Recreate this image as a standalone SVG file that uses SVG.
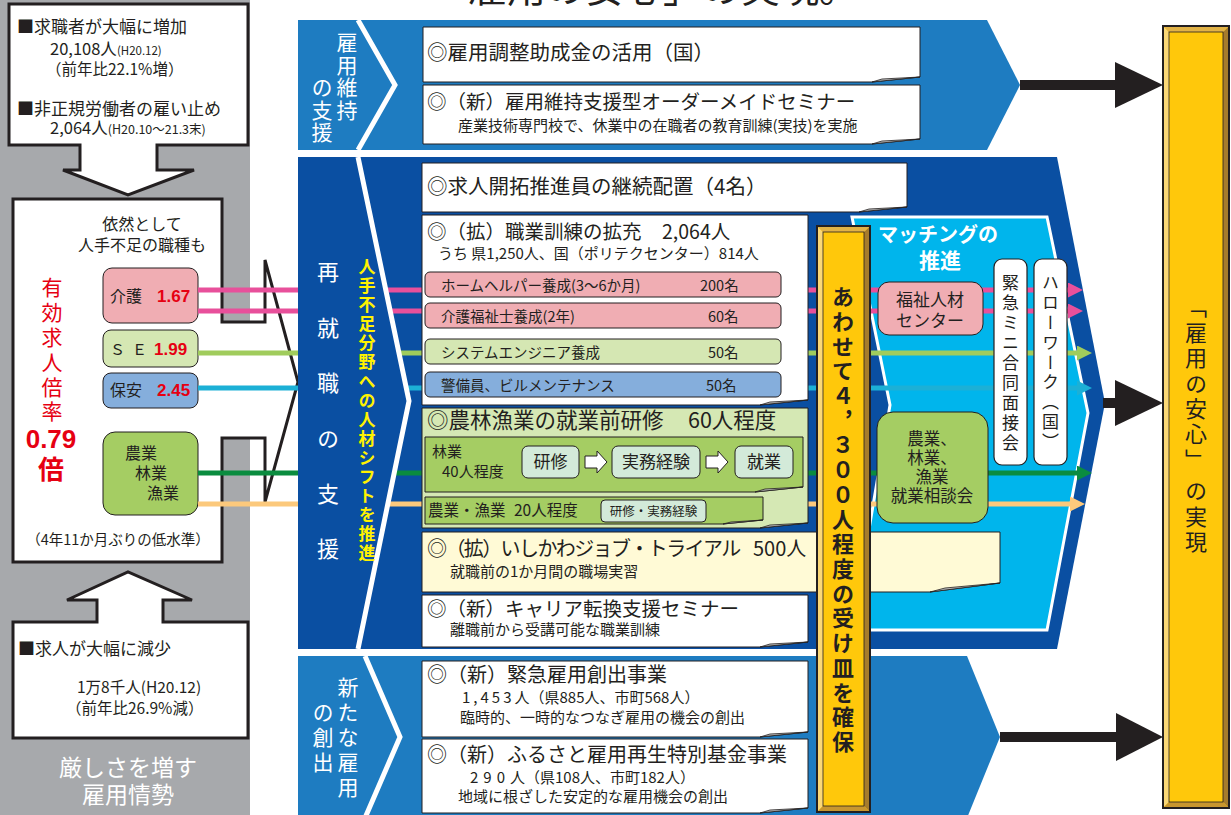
<svg xmlns="http://www.w3.org/2000/svg" width="1231" height="815" viewBox="0 0 1231 815">
<defs>
<style>
text{font-family:"Noto Sans CJK JP","Noto Sans CJK SC","Noto Sans",sans-serif;fill:#231f20}
.v{writing-mode:vertical-rl}
.w{fill:#fff}
.red{fill:#e60012}
.yl{fill:#fff200;font-weight:bold}
.num{font-family:"Liberation Sans",Arial,sans-serif;font-weight:bold;fill:#e60012}
.bx{fill:#fff;stroke:#231f20;stroke-width:1}
.fold{fill:#bdbdbd;stroke:#231f20;stroke-width:0.8;stroke-linejoin:round}
.sb{stroke:#231f20;stroke-width:1}
.pk{fill:#f0adb3}
.lg{fill:#d5e7b3}
.bl{fill:#85aedc}
.gr{fill:#a5cd63}
.mint{fill:#d3ead9;stroke:#231f20;stroke-width:1}
.ln{fill:none;stroke-width:5}
.outline{fill:#fff;stroke:#231f20;stroke-width:3}
.sep{fill:none;stroke:#fff;stroke-width:5}
.vb{fill:#fff;stroke:#231f20;stroke-width:1.2}
.barface{fill:#ffc80b}
.bl-l{fill:#fbd877}
.bl-r{fill:#a67c2c}
.bl-t{fill:#e2b347}
.bl-b{fill:#c8962f}
.edge{fill:none;stroke:#231f20}
.blk{fill:#231f20}
</style>
<marker id="mPk" viewBox="0 0 16 16" refX="0" refY="8" markerWidth="15" markerHeight="15" markerUnits="userSpaceOnUse" orient="auto"><path d="M0,0 L16,8 L0,16 Z" fill="#e8509b"/></marker>
<marker id="mLg" viewBox="0 0 16 16" refX="0" refY="8" markerWidth="15" markerHeight="15" markerUnits="userSpaceOnUse" orient="auto"><path d="M0,0 L16,8 L0,16 Z" fill="#a0cc5c"/></marker>
<marker id="mCy" viewBox="0 0 16 16" refX="0" refY="8" markerWidth="15" markerHeight="15" markerUnits="userSpaceOnUse" orient="auto"><path d="M0,0 L16,8 L0,16 Z" fill="#1cb0d6"/></marker>
<marker id="mDg" viewBox="0 0 16 16" refX="0" refY="8" markerWidth="15" markerHeight="15" markerUnits="userSpaceOnUse" orient="auto"><path d="M0,0 L16,8 L0,16 Z" fill="#0a8c3f"/></marker>
<marker id="mOr" viewBox="0 0 16 16" refX="0" refY="8" markerWidth="15" markerHeight="15" markerUnits="userSpaceOnUse" orient="auto"><path d="M0,0 L16,8 L0,16 Z" fill="#fcc97c"/></marker>
</defs>
<rect x="0" y="0" width="1231" height="815" fill="#fff"/>

<!-- title (cut off at top) -->
<text id="title" x="429" y="2" font-size="39">「雇用の安心」の実現。</text>

<!-- left panel -->
<rect x="0" y="0" width="250" height="815" fill="#a7a9ac"/>

<g id="n-kyushokusha">
<path class="outline" d="M9,4 H248 V145 H157 V170 H194 L128,195 L63,170 H80 V145 H9 Z"/>
<text x="17" y="33" font-size="17">■求職者が大幅に増加</text>
<text x="50" y="55" font-size="16.5">20,108人<tspan font-size="11.5">(H20.12)</tspan></text>
<text x="46" y="75" font-size="15.5">（前年比22.1%増）</text>
<text x="17" y="115" font-size="17">■非正規労働者の雇い止め</text>
<text x="50" y="134" font-size="16.5">2,064人<tspan font-size="12.5">(H20.10～21.3末)</tspan></text>
</g>

<g id="n-yuko-kyujin">
<path class="outline" d="M13,199 H222 V322 H265 V260 L298,382 L265,502 V438 H222 V562 H13 Z"/>
<text x="142" y="230" font-size="16" text-anchor="middle">依然として</text>
<text x="142" y="251" font-size="16" text-anchor="middle">人手不足の職種も</text>
<text class="v red" x="52" y="277" font-size="21" letter-spacing="3.8">有効求人倍率</text>
<text class="num" x="51" y="448" font-size="26" text-anchor="middle">0.79</text>
<text class="red" x="51" y="479" font-size="26" font-weight="bold" text-anchor="middle">倍</text>
<text x="118" y="545" font-size="14.5" text-anchor="middle">（4年11か月ぶりの低水準）</text>
</g>

<g id="n-kaigo">
<rect class="pk sb" x="103" y="268" width="95" height="55" rx="9"/>
<text x="110" y="302" font-size="16">介護</text>
<text class="num" x="157" y="302" font-size="17">1.67</text>
</g>
<g id="n-se">
<rect class="lg sb" x="103" y="330" width="95" height="37" rx="8"/>
<text x="110" y="355" font-size="15" letter-spacing="7">ＳＥ</text>
<text class="num" x="154" y="355" font-size="17">1.99</text>
</g>
<g id="n-hoan">
<rect class="bl sb" x="103" y="373" width="95" height="35" rx="8"/>
<text x="110" y="396" font-size="16">保安</text>
<text class="num" x="157" y="396" font-size="17">2.45</text>
</g>
<g id="n-nourin">
<rect class="gr sb" x="103" y="432" width="95" height="83" rx="12"/>
<text x="125" y="459" font-size="16">農業</text>
<text x="135" y="479" font-size="16">林業</text>
<text x="147" y="499" font-size="16">漁業</text>
</g>

<g id="n-kyujin-genshou">
<path class="outline" d="M13,622 H97 V600 H67 L128,572 L192,600 H163 V622 H248 V738 H13 Z"/>
<text x="18" y="655" font-size="17">■求人が大幅に減少</text>
<text x="77" y="693" font-size="15.5">1万8千人(H20.12)</text>
<text x="66" y="714" font-size="15.5">（前年比26.9%減）</text>
<text class="w" x="128" y="776" font-size="23" text-anchor="middle">厳しさを増す</text>
<text class="w" x="128" y="803" font-size="23" text-anchor="middle">雇用情勢</text>
</g>

<!-- blocks -->
<g id="block-koyou-iji">
<path d="M298,20 H987 L1020,85 L987,150 H298 Z" fill="#1e7cc1"/>
<polyline class="sep" points="358,20 395,85 358,150"/>
<text class="v w" x="347" y="32" font-size="21" letter-spacing="1.5">雇用維持</text>
<text class="v w" x="322" y="77" font-size="21" letter-spacing="1.5">の支援</text>
</g>
<g id="block-saishushoku">
<path d="M298,157 H1057 L1105,403 L1057,649 H298 Z" fill="#0a4fa2"/>
</g>
<g id="block-atarashii-koyou">
<path d="M298,656 H967 L1000,737 L967,818 H298 Z" fill="#1e7cc1"/>
<polyline class="sep" points="365,656 400,737 365,818"/>
<text class="v w" x="348" y="677" font-size="21" letter-spacing="3.8">新たな雇用</text>
<text class="v w" x="323" y="702" font-size="21" letter-spacing="3.8">の創出</text>
</g>
<g id="block-matching">
<polygon points="852,217 1047,217 1088,413 1047,630 852,630 890,405" fill="#00b5ec" stroke="#fff" stroke-width="3"/>
<text class="w" x="938" y="242" font-size="20" font-weight="bold" text-anchor="middle">マッチングの</text>
<text class="w" x="940" y="268" font-size="21" font-weight="bold" text-anchor="middle">推進</text>
</g>

<!-- connectors -->
<g id="connectors">
<path class="ln" stroke="#e8509b" d="M198,290 H1068" marker-end="url(#mPk)"/>
<path class="ln" stroke="#e8509b" d="M198,311 H1068" marker-end="url(#mPk)"/>
<path class="ln" stroke="#a0cc5c" d="M198,353 H1077" marker-end="url(#mLg)"/>
<path class="ln" stroke="#1cb0d6" d="M198,388 H1077" marker-end="url(#mCy)"/>
<path class="ln" stroke="#0a8c3f" d="M198,473 H1077" marker-end="url(#mDg)"/>
<path class="ln" stroke="#fcc97c" d="M198,504 H1070" marker-end="url(#mOr)"/>
<path d="M1020,85 H1120" stroke="#231f20" stroke-width="10"/>
<polygon class="blk" points="1115,62 1163,85 1115,108"/>
<path d="M1103,403 H1120" stroke="#231f20" stroke-width="10"/>
<polygon class="blk" points="1115,380 1163,403 1115,426"/>
<path d="M1000,737 H1120" stroke="#231f20" stroke-width="10"/>
<polygon class="blk" points="1116,713 1163,737 1116,761"/>
</g>

<!-- label area of middle block (covers lines) -->
<g id="label-saishushoku">
<polygon points="298,157 358,157 409,401 358,649 298,649" fill="#0a4fa2"/>
<polyline class="sep" points="358,157 409,401 358,649"/>
<text class="v w" x="328" y="261" font-size="22" letter-spacing="33.4">再就職の支援</text>
<text class="v yl" x="367" y="258" font-size="17" letter-spacing="2.1">人手不足分野への人材シフトを推進</text>
</g>

<!-- top block boxes -->
<g id="n-koyou-chosei">
<path class="bx" d="M423,27 H920 V77 L872,82 H423 Z"/>
<path class="fold" d="M920,77 L872,82 L882,79 Z"/>
<text x="427" y="60" font-size="20.5">◎雇用調整助成金の活用（国）</text>
</g>
<g id="n-ordermade">
<path class="bx" d="M423,85 H920 V139 L872,144 H423 Z"/>
<path class="fold" d="M920,139 L872,144 L882,141 Z"/>
<text x="427" y="109" font-size="19.5">◎（新）雇用維持支援型オーダーメイドセミナー</text>
<text x="458" y="131" font-size="15">産業技術専門校で、休業中の在職者の教育訓練(実技)を実施</text>
</g>

<!-- middle block boxes -->
<g id="n-kyujin-kaitaku">
<path class="bx" d="M422,163 H907 V207 L859,212 H422 Z"/>
<path class="fold" d="M907,207 L859,212 L869,209 Z"/>
<text x="427" y="194" font-size="20.5">◎求人開拓推進員の継続配置（4名）</text>
</g>
<g id="n-shokugyo-kunren">
<path class="bx" d="M422,215 H808 V400 L760,405 H422 Z"/>
<path class="fold" d="M808,400 L760,405 L770,402 Z"/>
<text x="427" y="239" font-size="19.5">◎（拡）職業訓練の拡充<tspan x="662">2,064人</tspan></text>
<text x="438" y="259" font-size="15">うち 県1,250人、国（ポリテクセンター）814人</text>
</g>
<g id="n-homehelper">
<rect class="pk sb" x="425" y="272" width="356" height="25" rx="5"/>
<text x="441" y="290.5" font-size="14.5">ホームヘルパー養成(3～6か月)<tspan x="700">200名</tspan></text>
</g>
<g id="n-kaigofukushishi">
<rect class="pk sb" x="425" y="303" width="356" height="25" rx="5"/>
<text x="441" y="321.5" font-size="14.5">介護福祉士養成(2年)<tspan x="708">60名</tspan></text>
</g>
<g id="n-system-engineer">
<rect class="lg sb" x="425" y="339" width="356" height="25" rx="5"/>
<text x="441" y="357.5" font-size="14.5">システムエンジニア養成<tspan x="708">50名</tspan></text>
</g>
<g id="n-keibi">
<rect class="bl sb" x="425" y="372" width="356" height="25" rx="5"/>
<text x="441" y="390.5" font-size="14.5">警備員、ビルメンテナンス<tspan x="706">50名</tspan></text>
</g>

<g id="n-nourin-kenshu">
<path class="sb" fill="#d5e8b4" d="M422,408 H808 V523 L760,528 H422 Z"/>
<path class="fold" d="M808,523 L760,528 L770,525 Z"/>
<text x="427" y="428" font-size="21.5">◎農林漁業の就業前研修<tspan x="688">60人程度</tspan></text>
<path class="gr sb" d="M425,437 H803 V487 L755,492 H425 Z"/>
<path class="fold" d="M803,487 L755,492 L765,489 Z"/>
<text x="432" y="457" font-size="15">林業</text>
<text x="442" y="477" font-size="15">40人程度</text>
<rect class="mint" x="522" y="446" width="57" height="32" rx="6"/>
<text x="550.5" y="468" font-size="17" text-anchor="middle">研修</text>
<polygon points="585,456 597,456 597,451 607,462 597,473 597,468 585,468" fill="#fff" stroke="#231f20" stroke-width="1"/>
<rect class="mint" x="612" y="446" width="88" height="32" rx="6"/>
<text x="656" y="468" font-size="17" text-anchor="middle">実務経験</text>
<polygon points="706,456 718,456 718,451 728,462 718,473 718,468 706,468" fill="#fff" stroke="#231f20" stroke-width="1"/>
<rect class="mint" x="735" y="446" width="58" height="32" rx="6"/>
<text x="764" y="468" font-size="17" text-anchor="middle">就業</text>
<path class="gr sb" d="M425,497 H763 V520 L723,524 H425 Z"/>
<path class="fold" d="M763,520 L723,524 L731,522 Z"/>
<text x="428" y="516" font-size="15.5">農業・漁業<tspan x="514">20人程度</tspan></text>
<rect class="mint" x="601" y="500" width="105" height="22" rx="4"/>
<text x="653.5" y="516" font-size="12.5" text-anchor="middle">研修・実務経験</text>
</g>

<g id="n-job-trial">
<path class="sb" fill="#fffad6" d="M422,532 H1000 V583 L930,592 H422 Z"/>
<path class="fold" d="M1000,583 L930,592 L945,588 Z"/>
<text x="427" y="556" font-size="20"><tspan letter-spacing="-1.6">◎（拡）いしかわジョブ・トライアル</tspan><tspan x="753">500人</tspan></text>
<text x="450" y="577" font-size="15">就職前の1か月間の職場実習</text>
</g>
<g id="n-career">
<path class="bx" d="M422,595 H808 V642 L760,647 H422 Z"/>
<path class="fold" d="M808,642 L760,647 L770,644 Z"/>
<text x="427" y="616" font-size="19.5">◎（新）キャリア転換支援セミナー</text>
<text x="450" y="635" font-size="15">離職前から受講可能な職業訓練</text>
</g>

<!-- bottom block boxes -->
<g id="n-kinkyu-koyou">
<path class="bx" d="M422,661 H808 V732 L760,737 H422 Z"/>
<path class="fold" d="M808,732 L760,737 L770,734 Z"/>
<text x="427" y="682" font-size="20">◎（新）緊急雇用創出事業</text>
<text x="462" y="703" font-size="15"><tspan letter-spacing="3">1,453</tspan>人（県885人、市町568人）</text>
<text x="460" y="723" font-size="15">臨時的、一時的なつなぎ雇用の機会の創出</text>
</g>
<g id="n-furusato">
<path class="bx" d="M422,739 H808 V808 L760,813 H422 Z"/>
<path class="fold" d="M808,808 L760,813 L770,810 Z"/>
<text x="427" y="762" font-size="20">◎（新）ふるさと雇用再生特別基金事業</text>
<text x="470" y="783" font-size="15"><tspan letter-spacing="5">290</tspan>人（県108人、市町182人）</text>
<text x="458" y="802" font-size="15">地域に根ざした安定的な雇用機会の創出</text>
</g>

<!-- matching block nodes -->
<g id="n-fukushi-center">
<rect class="pk sb" x="878" y="282" width="105" height="53" rx="11"/>
<text x="930" y="306" font-size="17" text-anchor="middle">福祉人材</text>
<text x="930" y="327" font-size="17" text-anchor="middle">センター</text>
</g>
<g id="n-shudan-mensetsu">
<rect class="vb" x="994" y="259" width="33" height="206" rx="8"/>
<text class="v" x="1010.5" y="274.5" font-size="17" letter-spacing="2.9">緊急ミニ合同面接会</text>
</g>
<g id="n-hellowork">
<rect class="vb" x="1034" y="259" width="33" height="206" rx="8"/>
<text class="v" x="1050.5" y="274.5" font-size="17" letter-spacing="2.8">ハローワーク（国）</text>
</g>
<g id="n-soudankai">
<rect class="gr sb" x="877" y="412" width="111" height="111" rx="16"/>
<text x="932" y="445" font-size="16.5" text-anchor="middle">農業、</text>
<text x="932" y="464" font-size="16.5" text-anchor="middle">林業、</text>
<text x="932" y="483" font-size="16.5" text-anchor="middle">漁業</text>
<text x="932" y="502" font-size="16.5" text-anchor="middle">就業相談会</text>
</g>

<!-- middle yellow bar -->
<g id="n-ukezara">
<rect class="barface" x="817" y="226" width="53" height="586"/>
<polygon class="bl-l" points="817,226 823,232 823,806 817,812"/>
<polygon class="bl-r" points="870,226 864,232 864,806 870,812"/>
<polygon class="bl-t" points="817,226 870,226 864,232 823,232"/>
<polygon class="bl-b" points="817,812 870,812 864,806 823,806"/>
<rect class="edge" x="823" y="232" width="41" height="574" stroke-width="0.8"/>
<rect class="edge" x="817" y="226" width="53" height="586" stroke-width="2"/>
<text class="v" x="843" y="286" font-size="22" font-weight="bold" letter-spacing="2.7">あわせて４，３００人程度の受け皿を確保</text>
</g>

<!-- right yellow bar -->
<g id="n-anshin">
<rect class="barface" x="1163" y="26" width="66" height="782"/>
<polygon class="bl-l" points="1163,26 1169,32 1169,802 1163,808"/>
<polygon class="bl-r" points="1229,26 1223,32 1223,802 1229,808"/>
<polygon class="bl-t" points="1163,26 1229,26 1223,32 1169,32"/>
<polygon class="bl-b" points="1163,808 1229,808 1223,802 1169,802"/>
<rect class="edge" x="1169" y="32" width="54" height="770" stroke-width="0.8"/>
<rect class="edge" x="1163" y="26" width="66" height="782" stroke-width="2"/>
<text class="v" x="1196" y="296" font-size="22" letter-spacing="3.4">「雇用の安心」</text>
<text class="v" x="1196" y="480" font-size="22" letter-spacing="3.4">の実現</text>
</g>
</svg>
